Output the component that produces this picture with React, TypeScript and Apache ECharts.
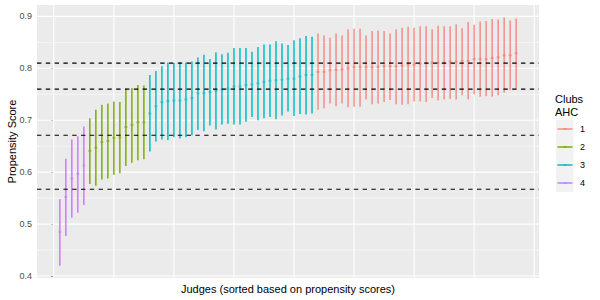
import React, { useEffect, useRef } from "react";
import * as echarts from "echarts";

// Cluster order along the x axis (judges sorted by propensity score)
const clusterOrder = ["4", "2", "3", "1"];

// Cluster 4 (judges 1-5)
const c4Mean = [0.485, 0.552, 0.588, 0.597, 0.613];
const c4Low = [0.42, 0.477, 0.512, 0.522, 0.537];
const c4High = [0.548, 0.626, 0.663, 0.669, 0.688];

// Cluster 2 (judges 6-15)
const c2Mean = [0.641, 0.647, 0.658, 0.66, 0.666, 0.667, 0.687, 0.691, 0.696, 0.696];
const c2Low = [0.577, 0.574, 0.586, 0.588, 0.595, 0.598, 0.612, 0.618, 0.623, 0.625];
const c2High = [0.704, 0.72, 0.73, 0.732, 0.736, 0.735, 0.761, 0.762, 0.768, 0.767];

// Cluster 3 (judges 16-43)
const c3Mean = [0.713, 0.727, 0.735, 0.737, 0.738, 0.738, 0.74, 0.743, 0.752, 0.752, 0.754, 0.757, 0.759, 0.761, 0.765, 0.765, 0.768, 0.769, 0.771, 0.774, 0.776, 0.777, 0.778, 0.78, 0.78, 0.784, 0.787, 0.787];
const c3Low = [0.64, 0.659, 0.663, 0.662, 0.667, 0.665, 0.667, 0.671, 0.681, 0.679, 0.69, 0.682, 0.692, 0.693, 0.692, 0.692, 0.697, 0.706, 0.7, 0.704, 0.706, 0.702, 0.709, 0.717, 0.708, 0.712, 0.711, 0.713];
const c3High = [0.787, 0.795, 0.804, 0.811, 0.81, 0.812, 0.811, 0.813, 0.821, 0.826, 0.818, 0.831, 0.827, 0.83, 0.839, 0.839, 0.839, 0.832, 0.841, 0.846, 0.846, 0.852, 0.848, 0.845, 0.854, 0.858, 0.862, 0.861];

// Cluster 1 (judges 44-77)
const c1Mean = [0.793, 0.793, 0.796, 0.797, 0.798, 0.8, 0.802, 0.802, 0.802, 0.802, 0.803, 0.804, 0.804, 0.804, 0.805, 0.807, 0.807, 0.809, 0.81, 0.811, 0.811, 0.811, 0.813, 0.813, 0.814, 0.814, 0.818, 0.818, 0.818, 0.82, 0.821, 0.825, 0.825, 0.829];
const c1Low = [0.72, 0.723, 0.732, 0.727, 0.732, 0.725, 0.726, 0.726, 0.74, 0.731, 0.732, 0.735, 0.739, 0.731, 0.73, 0.731, 0.736, 0.736, 0.735, 0.743, 0.738, 0.74, 0.741, 0.74, 0.748, 0.74, 0.75, 0.745, 0.746, 0.745, 0.748, 0.753, 0.758, 0.761];
const c1High = [0.867, 0.863, 0.859, 0.867, 0.863, 0.875, 0.876, 0.876, 0.863, 0.872, 0.873, 0.872, 0.867, 0.875, 0.878, 0.88, 0.878, 0.881, 0.881, 0.875, 0.882, 0.881, 0.881, 0.885, 0.877, 0.889, 0.884, 0.89, 0.891, 0.895, 0.894, 0.898, 0.892, 0.896];

// Cluster thresholds (dashed lines)
const thresholds = [0.567, 0.671, 0.76, 0.81];

// Axis ticks
const yTicks = [0.4, 0.5, 0.6, 0.7, 0.8, 0.9];
const yMinorTicks = [0.45, 0.55, 0.65, 0.75, 0.85];
const xGridTicks = [0, 10, 20, 30, 40, 50, 60, 70, 80];

const legendLabels = ["1", "2", "3", "4"];

const X_MIN = -2.8;
const X_MAX = 80.8;
const Y_MIN = 0.3962;
const Y_MAX = 0.9219;

const COLORS: Record<string, string> = {
  "1": "#F8766D",
  "2": "#7CAE00",
  "3": "#00BFC4",
  "4": "#C77CFF",
};
const LINE_ALPHA: Record<string, number> = { "1": 0.8, "2": 1, "3": 1, "4": 1 };

const FONT = "Liberation Sans, Arial, Helvetica, sans-serif";

function rgba(hex: string, a: number) {
  const r = parseInt(hex.slice(1, 3), 16);
  const g = parseInt(hex.slice(3, 5), 16);
  const b = parseInt(hex.slice(5, 7), 16);
  return `rgba(${r},${g},${b},${a})`;
}

export default function App() {
  const ref = useRef<HTMLDivElement>(null);

  useEffect(() => {
    document.body.style.margin = "0";
    if (!ref.current) return;
    const chart = echarts.init(ref.current, undefined, { renderer: "svg" });

    const clusters: Record<string, { m: number[]; l: number[]; h: number[] }> = {
      "4": { m: c4Mean, l: c4Low, h: c4High },
      "2": { m: c2Mean, l: c2Low, h: c2High },
      "3": { m: c3Mean, l: c3Low, h: c3High },
      "1": { m: c1Mean, l: c1Low, h: c1High },
    };

    let idx = 1;
    const barSeries: any[] = clusterOrder.map((key) => {
      const c = clusters[key];
      const data = c.m.map((m, i) => [idx++, c.l[i], c.h[i], m]);
      const lineColor = rgba(COLORS[key], LINE_ALPHA[key]);
      const pointColor = rgba(COLORS[key], 0.6);
      return {
        type: "custom",
        name: key,
        z: 3,
        silent: true,
        data,
        encode: { x: 0, y: [1, 2, 3] },
        renderItem: (_p: any, api: any) => {
          const x = api.value(0);
          const lo = api.coord([x, api.value(1)]);
          const hi = api.coord([x, api.value(2)]);
          const mp = api.coord([x, api.value(3)]);
          return {
            type: "group",
            children: [
              {
                type: "line",
                shape: { x1: lo[0], y1: lo[1], x2: hi[0], y2: hi[1] },
                style: { stroke: lineColor, lineWidth: 1.5 },
              },
              {
                type: "rect",
                shape: { x: mp[0] - 1.5, y: mp[1] - 1, width: 3, height: 2 },
                style: { fill: pointColor },
              },
            ],
          };
        },
      };
    });

    // horizontal full-width line series (gridlines / thresholds)
    const hLineSeries = (values: number[], style: any, z: number) => ({
      type: "custom",
      z,
      silent: true,
      data: values.map((v) => [X_MIN, v]),
      encode: { x: 0, y: 1 },
      renderItem: (params: any, api: any) => {
        const cs = params.coordSys;
        const y = api.coord([X_MIN, api.value(1)])[1];
        return {
          type: "line",
          shape: { x1: cs.x, y1: y, x2: cs.x + cs.width, y2: y },
          style,
        };
      },
    });
    const vLineSeries = (values: number[], style: any, z: number) => ({
      type: "custom",
      z,
      silent: true,
      data: values.map((v) => [v, Y_MIN]),
      encode: { x: 0, y: 1 },
      renderItem: (params: any, api: any) => {
        const cs = params.coordSys;
        const x = api.coord([api.value(0), Y_MIN])[0];
        return {
          type: "line",
          shape: { x1: x, y1: cs.y, x2: x, y2: cs.y + cs.height },
          style,
        };
      },
    });

    const option: any = {
      animation: false,
      backgroundColor: "#ffffff",
      grid: {
        left: 37,
        right: 61,
        top: 5,
        bottom: 22,
        show: true,
        backgroundColor: "#EBEBEB",
        borderWidth: 0,
        containLabel: false,
        outerBoundsMode: "none",
      },
      xAxis: {
        type: "value",
        min: X_MIN,
        max: X_MAX,
        axisLine: { show: false },
        axisTick: { show: false },
        axisLabel: { show: false },
        splitLine: { show: false },
        name: "Judges (sorted based on propensity scores)",
        nameLocation: "middle",
        nameGap: 5,
        nameMoveOverlap: false,
        nameTextStyle: { fontFamily: FONT, fontSize: 11, color: "#000" },
      },
      yAxis: {
        type: "value",
        min: Y_MIN,
        max: Y_MAX,
        axisLine: { show: false },
        axisTick: {
          show: true,
          customValues: yTicks,
          length: 3,
          lineStyle: { color: "#333333", width: 1 },
        },
        axisLabel: {
          show: true,
          customValues: yTicks,
          formatter: (v: number) => v.toFixed(1),
          color: "#4D4D4D",
          fontFamily: FONT,
          fontSize: 9,
          margin: 5,
        },
        splitLine: { show: false },
        name: "Propensity Score",
        nameLocation: "middle",
        nameGap: 20,
        nameMoveOverlap: false,
        nameTextStyle: { fontFamily: FONT, fontSize: 11, color: "#000" },
      },
      series: [
        hLineSeries(yTicks, { stroke: "#FFFFFF", lineWidth: 1.1 }, 1),
        hLineSeries(yMinorTicks, { stroke: "#FFFFFF", lineWidth: 0.55 }, 1),
        vLineSeries(xGridTicks, { stroke: "#FFFFFF", lineWidth: 1.1 }, 1),
        ...barSeries,
        hLineSeries(thresholds, { stroke: "#000000", lineWidth: 1.1, lineDash: [4.4, 4.4] }, 5),
      ],
      graphic: [
        {
          type: "text",
          left: 555,
          top: 92,
          style: { text: "Clubs\nAHC", fontFamily: FONT, fontSize: 11, fill: "#000", lineHeight: 13 },
        },
        {
          type: "rect",
          shape: { x: 556, y: 120, width: 17.5, height: 72 },
          style: { fill: "#F2F2F2" },
        },
        ...legendLabels.flatMap((lab, i) => {
          const cy = 129 + i * 18;
          return [
            {
              type: "line",
              shape: { x1: 557.5, y1: cy, x2: 572.5, y2: cy },
              style: { stroke: rgba(COLORS[lab], LINE_ALPHA[lab]), lineWidth: 1.5 },
            },
            {
              type: "rect",
              shape: { x: 563.5, y: cy - 1, width: 3, height: 2 },
              style: { fill: rgba(COLORS[lab], 0.6) },
            },
            {
              type: "text",
              x: 580,
              y: cy,
              style: { text: lab, fontFamily: FONT, fontSize: 9, fill: "#000", verticalAlign: "middle" },
            },
          ];
        }),
      ],
    };

    chart.setOption(option);
    return () => chart.dispose();
  }, []);

  return <div ref={ref} style={{ width: 600, height: 300 }} />;
}
